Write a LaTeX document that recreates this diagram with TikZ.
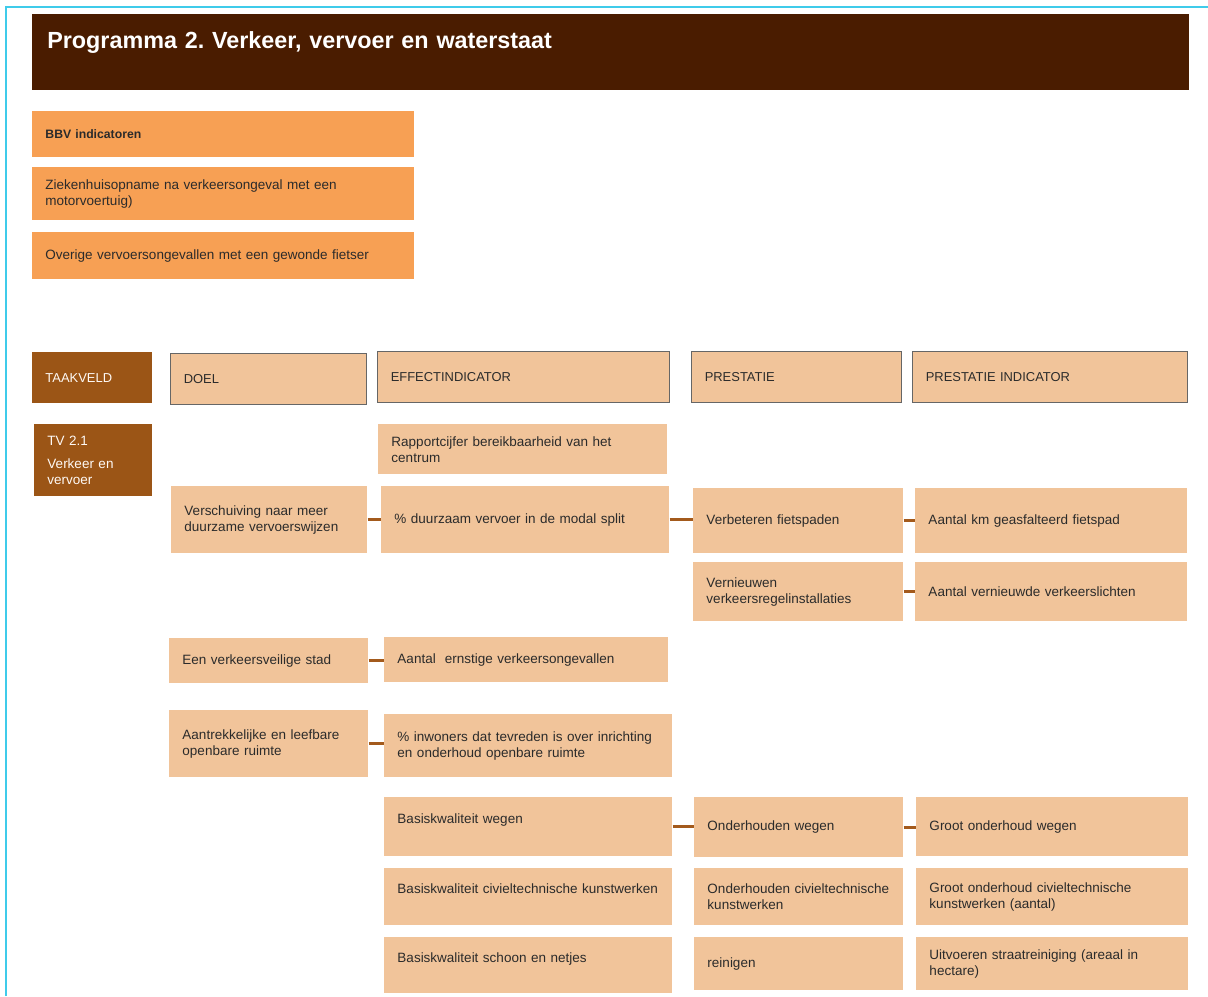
\documentclass[tikz,border=0pt]{standalone}
\usepackage{fontspec}
\setmainfont{Liberation Sans}
\frenchspacing

\definecolor{titlebrown}{HTML}{4A1C00}
\definecolor{taakbrown}{HTML}{9B5516}
\definecolor{bbvorange}{HTML}{F7A054}
\definecolor{tanfill}{HTML}{F1C49A}
\definecolor{linkbrown}{HTML}{A35A1C}
\definecolor{framecyan}{HTML}{3FCBEA}
\definecolor{textgray}{HTML}{2B2B2B}

\begin{document}
\begin{tikzpicture}[x=0.025cm, y=-0.025cm]
        \tikzstyle{every node}=[anchor=north west, inner xsep=0.33cm, inner ysep=0pt, align=left, text=textgray, font=\fontsize{9.6}{11.4}\selectfont]
        \tikzstyle{tanbox}=[fill=tanfill]
        \tikzstyle{headbox}=[fill=tanfill, draw=black!60, line width=0.8pt, font=\fontsize{9.2}{11}\selectfont]
        \tikzstyle{brownbox}=[fill=taakbrown, text=white!90!tanfill]
        \tikzstyle{bbvbox}=[fill=bbvorange]
        \tikzstyle{link}=[draw=linkbrown, line width=2.2pt]
        \useasboundingbox (0,0) rectangle (1208,996);
        \draw[framecyan, line width=1pt] (6,996) -- (6,7) -- (1208,7);
        % title and BBV
        \node[fill=titlebrown, text=white, font=\bfseries\fontsize{16.6}{20}\selectfont, inner xsep=0.375cm, text width=28.15cm, text height=24.5pt, text depth=29.5pt] (title) at (32,14) {Programma 2. Verkeer, vervoer en waterstaat};
        \node[bbvbox, font=\bfseries\fontsize{8.7}{11}\selectfont, text width=8.89cm, minimum height=1.15cm] (bbv) at (32,111) {BBV indicatoren};
        \node[bbvbox, text width=8.89cm, minimum height=1.325cm] (bbv1) at (32,167) {Ziekenhuisopname na verkeersongeval met een\\ motorvoertuig)};
        \node[bbvbox, text width=8.89cm, minimum height=1.175cm] (bbv2) at (32,232) {Overige vervoersongevallen met een gewonde fietser};
        % headers
        \node[brownbox, font=\fontsize{9.2}{11}\selectfont, text width=2.34cm, minimum height=1.275cm] (taakveld) at (32,352) {TAAKVELD};
        \node[headbox, text width=4.24cm, minimum height=1.275cm] (doel) at (170,353) {DOEL};
        \node[headbox, text width=6.64cm, minimum height=1.275cm] (effect) at (377,351) {EFFECTINDICATOR};
        \node[headbox, text width=4.59cm, minimum height=1.275cm] (prestatie) at (691,351) {PRESTATIE};
        \node[headbox, text width=6.215cm, minimum height=1.275cm] (prestind) at (912,351) {PRESTATIE INDICATOR};
        \node[brownbox, text width=2.29cm, minimum height=1.8cm] (tv) at (34,424) {TV 2.1\\[5pt] Verkeer en\\ vervoer};
        % doelen
        \node[tanbox, text width=4.24cm, minimum height=1.675cm] (doel1) at (171,486) {Verschuiving naar meer\\ duurzame vervoerswijzen};
        \node[tanbox, text width=4.315cm, minimum height=1.125cm] (doel2) at (169,638) {Een verkeersveilige stad};
        \node[tanbox, text width=4.315cm, minimum height=1.675cm] (doel3) at (169,710) {Aantrekkelijke en leefbare\\ openbare ruimte};
        % effectindicatoren
        \node[tanbox, text width=6.565cm, minimum height=1.25cm] (eff1) at (378,424) {Rapportcijfer bereikbaarheid van het\\ centrum};
        \node[tanbox, text width=6.54cm, minimum height=1.675cm] (eff2) at (381,486) {\% duurzaam vervoer in de modal split};
        \node[tanbox, text width=6.44cm, minimum height=1.125cm] (eff3) at (384,637) {Aantal~ ernstige verkeersongevallen};
        \node[tanbox, text width=6.54cm, minimum height=1.575cm] (eff4) at (384,714) {\% inwoners dat tevreden is over inrichting\\ en onderhoud openbare ruimte};
        \node[tanbox, text width=6.54cm, minimum height=1.475cm] (eff5) at (384,797) {Basiskwaliteit wegen\\ \mbox{}};
        \node[tanbox, text width=6.54cm, minimum height=1.425cm] (eff6) at (384,868) {Basiskwaliteit civieltechnische~kunstwerken\\ \mbox{}};
        \node[tanbox, text width=6.54cm, minimum height=1.4cm] (eff7) at (384,937) {Basiskwaliteit schoon en netjes\\ \mbox{}};
        % prestaties
        \node[tanbox, text width=4.59cm, minimum height=1.625cm] (pr1) at (693,488) {Verbeteren fietspaden};
        \node[tanbox, text width=4.59cm, minimum height=1.475cm] (pr2) at (693,562) {Vernieuwen\\ verkeersregelinstallaties};
        \node[tanbox, text width=4.565cm, minimum height=1.5cm] (pr3) at (694,797) {Onderhouden wegen};
        \node[tanbox, text width=4.565cm, minimum height=1.425cm] (pr4) at (694,868) {Onderhouden civieltechnische\\ kunstwerken};
        \node[tanbox, text width=4.565cm, minimum height=1.325cm] (pr5) at (694,937) {reinigen};
        % prestatie indicatoren
        \node[tanbox, text width=6.14cm, minimum height=1.625cm] (pi1) at (915,488) {Aantal km geasfalteerd fietspad};
        \node[tanbox, text width=6.14cm, minimum height=1.475cm] (pi2) at (915,562) {Aantal vernieuwde verkeerslichten};
        \node[tanbox, text width=6.14cm, minimum height=1.475cm] (pi3) at (916,797) {Groot onderhoud wegen};
        \node[tanbox, text width=6.14cm, minimum height=1.425cm] (pi4) at (916,868) {Groot onderhoud civieltechnische\\ kunstwerken (aantal)};
        \node[tanbox, text width=6.14cm, minimum height=1.325cm] (pi5) at (916,937) {Uitvoeren straatreiniging (areaal in\\ hectare)};
        % links
        \draw[link] (doel1.east) -- (doel1.east -| eff2.west);
        \draw[link] (eff2.east) -- (eff2.east -| pr1.west);
        \draw[link] (pr1.east) -- (pr1.east -| pi1.west);
        \draw[link] (pr2.east) -- (pr2.east -| pi2.west);
        \draw[link] (doel2.east) -- (doel2.east -| eff3.west);
        \draw[link] (doel3.east) -- (doel3.east -| eff4.west);
        \draw[link] (eff5.east) -- (eff5.east -| pr3.west);
        \draw[link] (pr3.east) -- (pr3.east -| pi3.west);
    \end{tikzpicture}
\end{document}
